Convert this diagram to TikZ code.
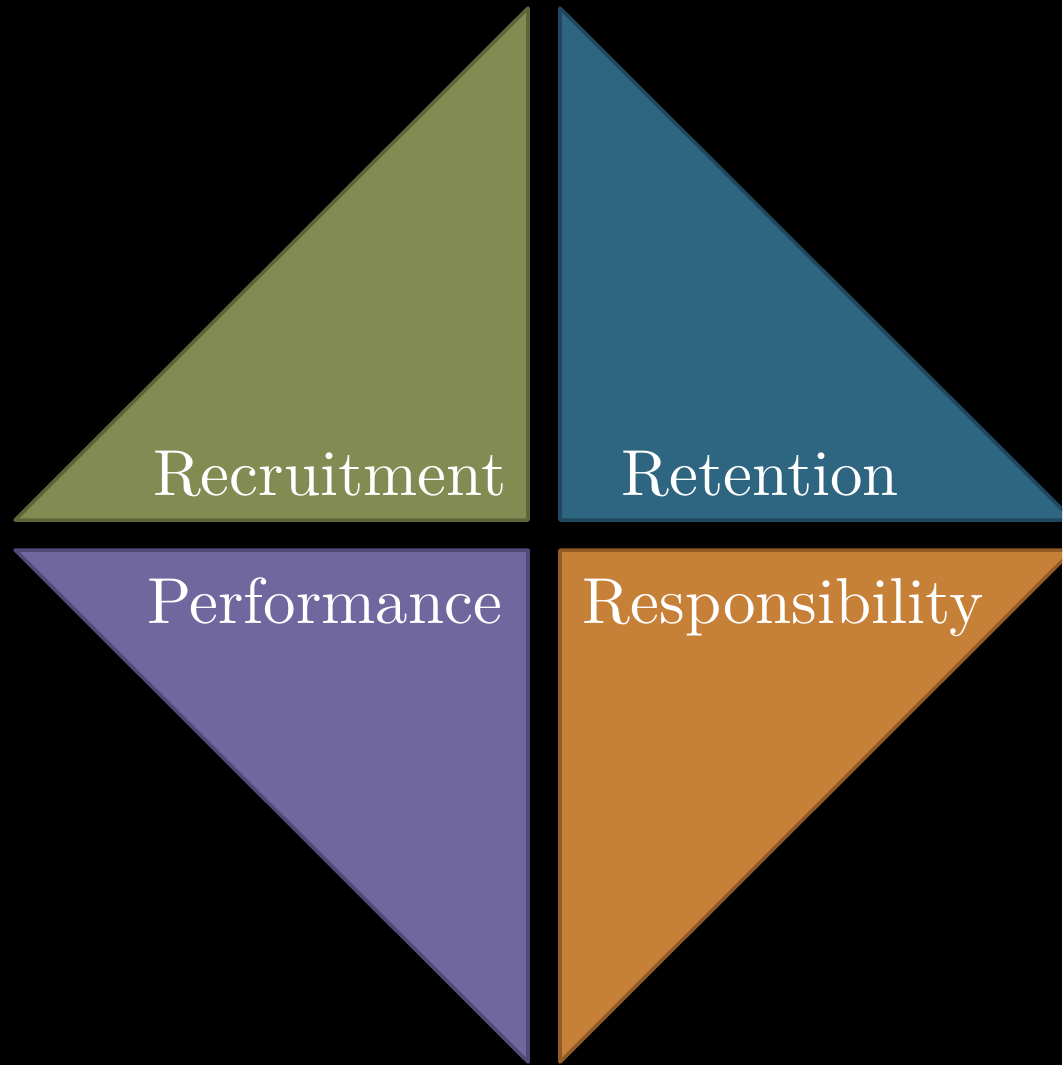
\documentclass[tikz,border=0pt]{standalone}
\usepackage{xcolor}
\usepackage{fontspec}
\usepackage{tikz}

\newfontfamily\lblfont{lmroman10-regular.otf}
\definecolor{olivefill}{RGB}{130,139,82}
\definecolor{olivedraw}{RGB}{92,102,56}
\definecolor{tealfill}{RGB}{46,101,128}
\definecolor{tealdraw}{RGB}{31,71,94}
\definecolor{violetfill}{RGB}{112,103,158}
\definecolor{violetdraw}{RGB}{81,74,119}
\definecolor{amberfill}{RGB}{198,128,56}
\definecolor{amberdraw}{RGB}{144,91,38}

\begin{document}
\begin{tikzpicture}[x=0.02cm, y=-0.02cm, line width=2pt, line join=round,
        lbl/.style={text=white, inner sep=0pt, font=\lblfont\fontsize{37}{40}\selectfont}]
        \fill[black] (0,0) rectangle (1062,1065);
        \useasboundingbox (0,0) rectangle (1062,1065);
        \clip (0,0) rectangle (1062,1065);
        \draw[fill=olivefill, draw=olivedraw] (528,8) -- (528,520) -- (15,520) -- cycle;
        \draw[fill=tealfill, draw=tealdraw] (560,8) -- (560,520) -- (1073,520) -- cycle;
        \draw[fill=violetfill, draw=violetdraw] (15,550) -- (528,550) -- (528,1062) -- cycle;
        \draw[fill=amberfill, draw=amberdraw] (560,550) -- (1073,550) -- (560,1062) -- cycle;
        \node[lbl, anchor=base east] (recruit) at (508,495) {Recruitment};
        \node[lbl, anchor=base west] (retain) at (620,495) {Retention};
        \node[lbl, anchor=base east] (perform) at (504,623) {Performance};
        \node[lbl, anchor=base west] (respons) at (581,623) {Responsibility};
    \end{tikzpicture}
\end{document}
